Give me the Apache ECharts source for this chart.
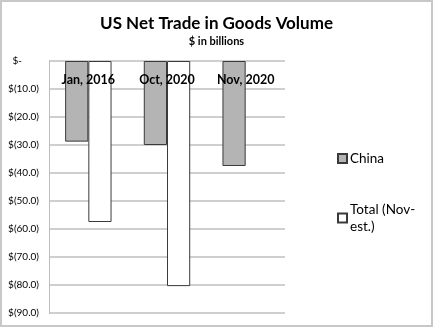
<!DOCTYPE html>
<html>
<head>
<meta charset="utf-8">
<script src="https://cdn.jsdelivr.net/npm/echarts@6/dist/echarts.min.js"></script>
<style>
  html, body { margin: 0; padding: 0; background: #fff; }
  #chart { width: 433px; height: 327px; }
</style>
</head>
<body>
<div id="chart"></div>
<script>
// Monthly US net trade in goods, $ billions
const categories = ['Jan, 2016', 'Oct, 2020', 'Nov, 2020'];
const chinaValues = [-28.8, -30.0, -37.5];
const totalValues = [-57.5, -80.4, null];
const seriesNames = ['China', 'Total (Nov-est.)'];
const yTicks = { min: -90, max: 0, step: 10 };

const FONT = 'Lato, "Open Sans", sans-serif';

function moneyLabel(v) {
  if (v === 0) return '{z|$-}';
  return '$(' + Math.abs(v).toFixed(1) + ')';
}

const chart = echarts.init(document.getElementById('chart'));
chart.setOption({
  animation: false,
  backgroundColor: '#fff',
  textStyle: { fontFamily: FONT },
  title: {
    text: 'US Net Trade in Goods Volume',
    subtext: '$ in billions',
    left: 'center',
    top: 10,
    itemGap: 4,
    textStyle: { fontFamily: FONT, fontSize: 17, fontWeight: 'bold', color: '#000' },
    subtextStyle: { fontFamily: FONT, fontSize: 11, fontWeight: 'bold', color: '#000' }
  },
  graphic: [{
    type: 'rect',
    shape: { x: 1, y: 1, width: 431, height: 325 },
    style: { fill: 'none', stroke: '#c8c8c8', lineWidth: 2 },
    silent: true
  }],
  legend: {
    orient: 'vertical',
    left: 332,
    top: 145,
    itemGap: 34,
    itemWidth: 9,
    itemHeight: 9,
    icon: 'rect',
    data: seriesNames,
    formatter: function (name) {
      return name === seriesNames[1] ? 'Total (Nov-\nest.)' : name;
    },
    textStyle: { fontFamily: FONT, fontSize: 13.5, color: '#000', lineHeight: 17, padding: [0, 0, 0, -2] }
  },
  grid: { left: 49, right: 148, top: 61, bottom: 14 },
  xAxis: {
    type: 'category',
    data: categories,
    position: 'top',
    z: 10,
    axisLine: { show: false },
    axisTick: { show: false },
    axisLabel: {
      inside: true,
      margin: 12,
      fontFamily: FONT,
      fontSize: 12.5,
      fontWeight: 'bold',
      color: '#000',
      verticalAlign: 'top'
    }
  },
  yAxis: {
    type: 'value',
    min: yTicks.min,
    max: yTicks.max,
    interval: yTicks.step,
    axisLine: { show: true, lineStyle: { color: '#bdbdbd', width: 1 } },
    axisTick: { show: false },
    splitLine: { show: true, lineStyle: { color: '#cfcfcf', width: 2 } },
    axisLabel: {
      formatter: moneyLabel,
      margin: 10,
      fontFamily: FONT,
      fontSize: 10,
      color: '#000',
      rich: { z: { fontFamily: FONT, fontSize: 10, color: '#000', padding: [0, 17, 0, 0] } }
    }
  },
  series: [
    {
      name: seriesNames[0],
      type: 'bar',
      data: chinaValues,
      barGap: '0%',
      barCategoryGap: '41%',
      itemStyle: { color: '#b4b4b4', borderColor: '#3a3a3a', borderWidth: 1 }
    },
    {
      name: seriesNames[1],
      type: 'bar',
      data: totalValues,
      itemStyle: { color: '#ffffff', borderColor: '#3a3a3a', borderWidth: 1 }
    }
  ]
});
</script>
</body>
</html>
